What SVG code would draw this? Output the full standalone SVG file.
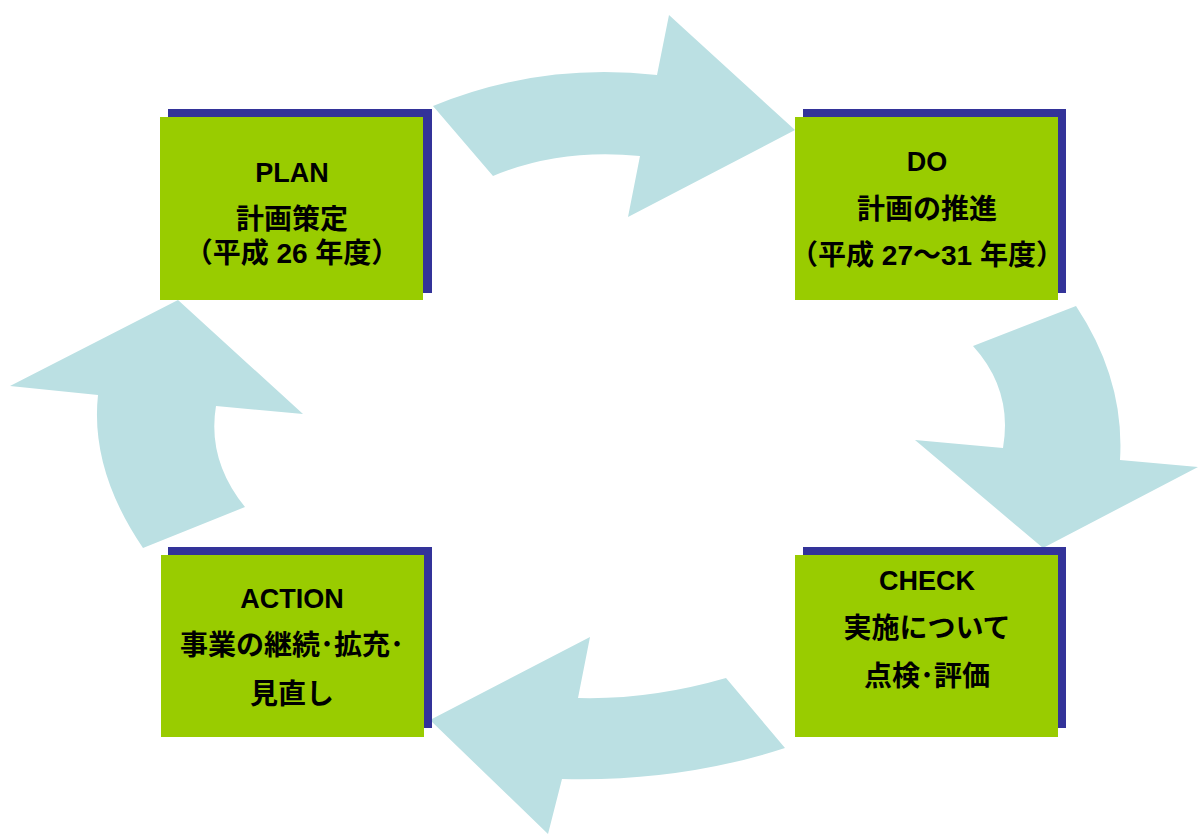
<svg xmlns="http://www.w3.org/2000/svg" width="1198" height="835" viewBox="0 0 1198 835">
<style>
.arrow{fill:#BBE0E3;stroke:none}
.shadow{fill:#333399}
.box{fill:#99CC00}
.t{font-family:"Liberation Sans","Noto Sans CJK JP",sans-serif;font-size:27px;font-weight:bold;fill:#000;text-anchor:middle}
.j{font-size:28px}
</style>
<rect width="1198" height="835" fill="#ffffff"/>
<g id="connectors">
<path class="arrow" d="M433,106 Q540,62 657,75 L669,15 L795,130 L628,217 L640,156 Q560,148 493,176 Z"/>
<path class="arrow" d="M973,346 L1076,306 Q1125,380 1120,460 L1198,467 L1043,548 L915,440 L1003,448 Q1013,390 973,346 Z"/>
<path class="arrow" d="M726,678 Q650,700 578,698 L590,637 L430,720 L548,834 L562,779 Q680,782 785,748 Z"/>
<path class="arrow" d="M178,300 L303,414 L216,406 Q207,460 245,507 L143,548 Q90,470 98,395 L10,386 Z"/>
</g>
<g id="plan">
<rect class="shadow" x="168" y="109" width="264" height="184"/>
<rect class="box" x="160" y="117" width="263" height="183"/>
<text class="t" x="292" y="182">PLAN</text>
<text class="t j" x="292" y="229">計画策定</text>
<text class="t j" x="292" y="263">（平成 26 年度）</text>
</g>
<g id="do">
<rect class="shadow" x="803" y="109" width="263" height="184"/>
<rect class="box" x="795" y="117" width="263" height="183"/>
<text class="t" x="927" y="171">DO</text>
<text class="t j" x="927" y="219">計画の推進</text>
<text class="t j" x="927" y="265">（平成 27〜31 年度）</text>
</g>
<g id="check">
<rect class="shadow" x="803" y="547" width="263" height="181"/>
<rect class="box" x="795" y="555" width="263" height="182"/>
<text class="t" x="927" y="590">CHECK</text>
<text class="t j" x="927" y="638">実施について</text>
<text class="t j" x="927" y="686">点検･評価</text>
</g>
<g id="action">
<rect class="shadow" x="168" y="547" width="264" height="181"/>
<rect class="box" x="161" y="555" width="263" height="182"/>
<text class="t" x="292" y="608">ACTION</text>
<text class="t j" x="292" y="655">事業の継続･拡充･</text>
<text class="t j" x="292" y="704">見直し</text>
</g>
</svg>
